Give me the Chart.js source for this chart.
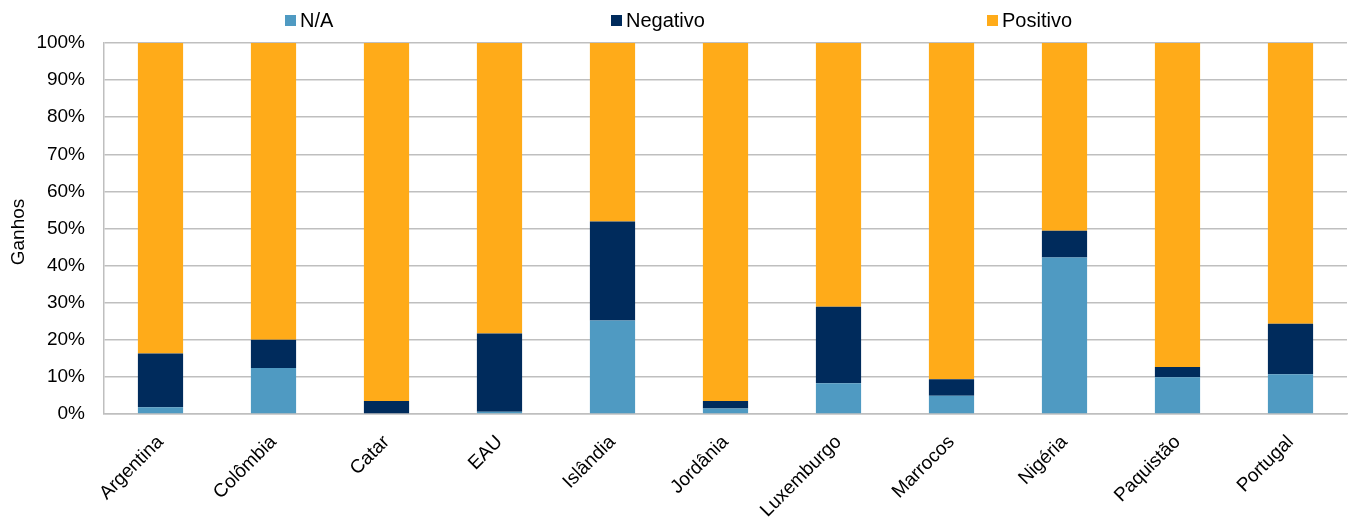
<!DOCTYPE html>
<html lang="pt">
<head>
  <meta charset="UTF-8">
  <title>Ganhos por país</title>
  <script src="https://cdn.jsdelivr.net/npm/chart.js"></script>
  <style>
    html, body { margin: 0; padding: 0; background: #fff; }
    .wrap { width: 1348px; height: 523px; }
  </style>
</head>
<body>
  <div class="wrap"><canvas id="ganhosChart"></canvas></div>
  <script>
    const paises = ['Argentina', 'Colômbia', 'Catar', 'EAU', 'Islândia', 'Jordânia',
                    'Luxemburgo', 'Marrocos', 'Nigéria', 'Paquistão', 'Portugal'];
    const naValores       = [1.8, 12.4, 0.0, 0.6, 25.2, 1.5, 8.3, 4.9, 42.2, 9.9, 10.7];
    const negativoValores = [14.5, 7.6, 3.5, 21.1, 26.7, 2.0, 20.6, 4.5, 7.2, 2.8, 13.6];
    const positivoValores = [83.7, 80.0, 96.5, 78.3, 48.1, 96.5, 71.1, 90.6, 50.6, 87.3, 75.7];

    const fonte = "'Liberation Sans', Arial, sans-serif";

    // legenda espalhada pela largura e título do eixo Y desenhados à mão
    const extras = {
      id: 'extras',
      afterDraw(chart) {
        const ctx = chart.ctx;
        const posX = [285, 611, 987];
        ctx.save();
        ctx.font = '20px ' + fonte;
        ctx.textBaseline = 'middle';
        chart.data.datasets.forEach((ds, i) => {
          ctx.fillStyle = ds.backgroundColor;
          ctx.fillRect(posX[i], 15, 11, 11);
          ctx.fillStyle = '#000';
          ctx.fillText(ds.label, posX[i] + 15, 21);
        });
        ctx.font = '19px ' + fonte;
        ctx.translate(19, 232);
        ctx.rotate(-Math.PI / 2);
        ctx.textAlign = 'center';
        ctx.fillText('Ganhos', 0, 0);
        ctx.restore();
      }
    };

    new Chart(document.getElementById('ganhosChart'), {
      type: 'bar',
      data: {
        labels: paises,
        datasets: [
          { label: 'N/A', data: naValores, backgroundColor: '#4f9ac2' },
          { label: 'Negativo', data: negativoValores, backgroundColor: '#002b5c' },
          { label: 'Positivo', data: positivoValores, backgroundColor: '#ffab19' }
        ]
      },
      options: {
        responsive: true,
        maintainAspectRatio: false,
        animation: false,
        layout: { padding: { top: 43, right: 1, left: 0 } },
        datasets: { bar: { categoryPercentage: 1, barPercentage: 0.4 } },
        plugins: { legend: { display: false }, tooltip: { enabled: false } },
        scales: {
          x: {
            stacked: true,
            grid: { display: false },
            border: { color: '#bfbfbf', width: 1.5 },
            ticks: { color: '#000', font: { family: fonte, size: 19 }, minRotation: 45, maxRotation: 45, padding: 9 },
            afterFit: s => { s.height = 109; }
          },
          y: {
            stacked: true,
            min: 0, max: 100,
            grid: { color: '#bfbfbf', lineWidth: 1.5, drawTicks: false },
            border: { color: '#bfbfbf', width: 1.5 },
            ticks: {
              stepSize: 10, padding: 19, color: '#000',
              font: { family: fonte, size: 19 },
              callback: v => v + '%'
            },
            afterFit: s => { s.width = 104; }
          }
        }
      },
      plugins: [extras]
    });
  </script>
</body>
</html>
